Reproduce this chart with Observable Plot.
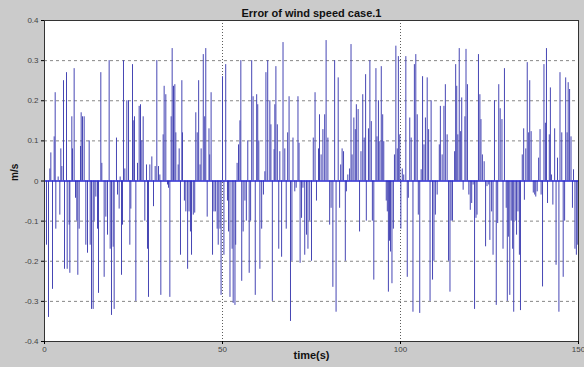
<!DOCTYPE html>
<html>
<head>
<meta charset="utf-8">
<script src="https://cdn.jsdelivr.net/npm/d3@7"></script>
<script src="https://cdn.jsdelivr.net/npm/@observablehq/plot@0.6"></script>
<style>
  html, body { margin: 0; padding: 0; background: #cbcbcb; }
  #chart svg { display: block; }
</style>
</head>
<body>
<div id="chart"></div>
<script>
const title = "Error of wind speed case.1";
const xLabel = "time(s)";
const yLabel = "m/s";
const xTicks = [0, 50, 100, 150];
const yTicks = [-0.4, -0.3, -0.2, -0.1, 0, 0.1, 0.2, 0.3, 0.4];

// sample times (s)
const time = [
  0.56,1.12,1.50,1.78,2.25,2.72,3.00,3.18,3.84,4.31,4.59,4.87,5.34,5.62,6.18,6.37,6.93,7.12,7.68,7.87,
  8.33,8.71,9.08,9.36,9.74,10.11,10.30,10.67,11.14,11.61,12.08,12.55,12.83,13.20,13.67,13.95,14.42,14.89,15.17,15.82,
  16.10,16.76,17.23,17.70,18.16,18.45,18.82,19.29,19.57,20.22,20.51,20.97,21.25,21.63,21.91,22.19,22.57,23.13,23.60,23.97,
  24.25,24.72,24.91,25.28,25.66,26.12,26.59,26.97,27.34,27.72,28.18,28.65,28.93,29.21,29.59,30.15,30.62,31.09,31.55,32.02,
  32.40,32.68,33.33,33.61,34.08,34.55,34.83,35.21,35.58,35.86,36.24,36.61,36.89,
  37.55,37.83,38.2,38.58,38.76,39.3,39.7,40.2,40.6,41.0,41.3,41.8,42.2,42.5,42.9,43.3,43.7,44.0,44.6,45.0,
  45.3,45.7,46.2,46.4,46.8,47.2,47.6,48.0,48.5,48.8,49.3,49.6,50.0,50.4,50.9,51.4,51.7,52.1,52.7,53.0,
  53.5,53.7,54.1,54.5,54.9,55.15,55.4,55.8,56.3,56.7,57.1,57.5,57.9,58.2,58.6,59.2,59.6,59.9,60.2,60.5,
  61.0,61.5,61.9,62.2,62.7,63.3,63.6,64.0,64.5,64.7,65.0,65.4,65.8,66.1,66.6,67.0,67.5,67.9,68.3,68.7,
  69.1,69.5,69.8,70.3,70.7,71.2,71.5,71.8,72.2,72.6,73.1,73.6,74.0,74.5,75.0,
  75.5,76.0,76.4,76.97,77.25,77.7,78.2,78.7,79.1,79.6,80.1,80.5,81.0,81.5,81.9,82.5,82.9,83.2,83.6,84.0,
  84.5,84.8,85.2,85.7,86.1,86.4,86.9,87.3,87.6,88.1,88.5,88.9,89.4,89.8,90.2,90.4,91.0,91.4,91.8,92.1,
  92.5,93.1,93.4,93.8,94.2,94.6,95.0,95.3,96.0,96.3,96.6,96.9,97.2,97.6,98.0,98.3,98.7,99.1,99.4,99.8,
  100.1,100.5,100.9,101.5,101.9,102.2,102.6,103.0,103.5,103.9,104.3,104.7,105.0,105.4,105.8,106.2,106.6,107.0,107.5,107.9,
  108.3,108.6,109.0,109.4,109.8,110.3,110.9,111.2,111.7,112.2,112.6,
  113.1,113.5,113.9,114.2,114.6,115.2,115.5,115.8,116.1,116.5,116.9,117.2,117.6,118.1,118.4,118.8,119.2,119.6,120.0,120.4,
  120.8,121.2,121.5,121.9,122.3,122.6,123.0,123.5,123.9,124.3,124.8,125.1,125.6,126.0,126.4,126.9,127.3,127.6,128.0,128.5,
  128.8,129.2,129.7,130.0,130.3,130.7,131.1,131.5,131.8,132.2,132.6,133.0,133.4,133.7,134.2,134.6,134.8,135.2,135.6,136.0,
  136.3,136.7,137.3,137.7,138.0,138.4,138.8,139.2,139.5,139.9,140.3,140.7,141.0,141.3,141.8,142.1,142.4,142.8,143.3,143.7,
  144.1,144.5,144.8,145.3,145.7,146.1,146.4,146.8,147.1,147.5,147.9,148.3,148.6,149.0,149.4,149.8
];

// wind speed error (m/s)
const error = [
  -0.16,-0.34,0.03,0.07,-0.27,0.11,0.22,-0.12,0.01,-0.085,0.08,0.036,0.25,-0.22,0.27,-0.22,-0.11,-0.23,0.16,0.08,
  0.28,-0.043,-0.10,-0.235,-0.12,0.086,0.17,0.16,0.16,-0.16,-0.18,0.10,-0.16,-0.32,-0.32,-0.10,-0.04,-0.12,-0.28,0.27,
  0.044,-0.24,-0.09,-0.135,0.30,-0.17,-0.335,-0.165,-0.32,0.107,-0.035,-0.07,0.01,-0.235,-0.11,0.30,0.03,0.20,0.20,-0.16,
  -0.07,0.29,0.15,0.16,-0.30,0.044,0.186,0.19,0.10,0.16,-0.10,0.04,-0.17,-0.29,0.04,0.06,-0.064,0.036,0.30,0.036,
  0.015,-0.285,0.115,0.236,0.215,-0.01,-0.018,-0.29,0.16,0.33,0.236,0.24,0.12,
  0.04,0.08,-0.185,0.25,0.12,-0.05,-0.077,-0.22,-0.077,-0.127,-0.185,-0.085,-0.08,0.17,0.12,0.25,0.04,0.08,0.315,0.16,
  0.33,-0.09,0.13,0.065,0.22,-0.185,-0.077,-0.077,-0.12,-0.16,-0.12,-0.285,0.26,-0.185,0.29,-0.05,-0.127,-0.29,-0.17,-0.305,
  -0.31,-0.16,0.044,0.09,0.15,0.30,-0.25,-0.127,-0.05,-0.10,0.10,-0.23,-0.10,0.30,0.21,-0.285,0.215,0.19,0.10,-0.22,
  -0.12,-0.035,0.023,0.27,0.30,0.20,0.14,-0.30,0.078,0.19,0.285,0.14,-0.17,0.073,-0.19,0.345,0.08,-0.12,0.12,0.21,
  -0.35,-0.20,0.107,-0.027,-0.018,0.21,0.094,-0.205,-0.093,-0.018,-0.185,-0.135,-0.17,-0.10,-0.20,
  0.107,0.22,-0.05,0.08,0.165,0.065,0.128,0.165,0.35,0.107,-0.11,-0.068,-0.265,0.30,-0.327,0.257,-0.068,0.04,0.08,0.073,
  -0.20,-0.027,0.015,0.03,0.34,0.065,0.157,0.128,0.19,0.178,-0.127,0.073,0.215,0.107,0.265,-0.10,0.13,0.30,0.148,-0.10,
  -0.247,0.28,0.11,0.20,0.098,0.285,0.165,0.098,-0.05,-0.077,-0.277,-0.15,-0.177,-0.256,-0.12,0.065,0.336,0.08,0.31,0.115,
  -0.12,0.03,0.015,0.31,-0.24,-0.043,0.157,0.107,-0.327,0.29,0.315,0.165,-0.085,-0.33,0.028,0.26,0.09,0.157,0.257,0.128,
  -0.30,0.20,-0.247,-0.20,-0.085,-0.035,0.09,0.186,0.065,0.186,0.24,
  0.115,-0.20,-0.277,-0.10,-0.10,0.073,0.29,0.236,0.115,0.33,0.123,0.207,-0.023,0.16,0.328,0.24,-0.035,-0.073,-0.056,-0.01,
  -0.32,-0.093,-0.085,0.315,0.215,0.153,0.065,0.048,-0.164,-0.014,-0.01,-0.148,-0.077,-0.185,0.20,-0.31,-0.106,0.24,0.18,0.153,
  -0.17,0.28,-0.068,-0.30,-0.14,-0.285,-0.10,-0.17,-0.327,-0.10,-0.135,-0.077,-0.185,-0.323,0.065,0.13,-0.048,0.08,0.295,0.12,
  0.25,0.123,-0.03,-0.035,-0.04,-0.027,0.057,0.128,-0.035,-0.264,0.29,0.144,0.33,-0.056,0.115,0.232,0.015,-0.06,0.13,-0.21,
  0.057,-0.327,0.27,0.12,-0.24,-0.10,0.257,0.12,0.245,0.228,0.11,-0.068,0.028,-0.17,-0.185,-0.16
];

const data = time.map((t, i) => ({t, v: error[i]}));
const fmt = d => d === 0 ? "0" : d.toFixed(1);

const chart = Plot.plot({
  width: 584,
  height: 367,
  marginLeft: 44,
  marginRight: 6,
  marginTop: 20,
  marginBottom: 26,
  style: {background: "#cbcbcb", fontFamily: "Liberation Sans, Arial, sans-serif"},
  x: {domain: [0, 150], ticks: xTicks},
  y: {domain: [-0.4, 0.4], ticks: yTicks},
  marks: [
    Plot.frame({fill: "white"}),
    Plot.gridY(yTicks.filter(d => d !== 0 && Math.abs(d) < 0.4), {stroke: "#000", strokeOpacity: 0.8, strokeDasharray: "3,3", strokeWidth: 0.6}),
    Plot.gridX([50, 100], {stroke: "#000", strokeOpacity: 0.8, strokeDasharray: "1,2", strokeWidth: 0.8}),
    Plot.ruleX(data, {x: "t", y1: 0, y2: "v", stroke: "#4646b4", strokeWidth: 1}),
    Plot.ruleY([0], {stroke: "#2a2ad0", strokeWidth: 1.6}),
    Plot.frame({stroke: "#333", strokeWidth: 1}),
    Plot.axisY(yTicks, {tickSize: 3, tickPadding: 3, tickFormat: fmt, fontSize: 8, fill: "#444", label: null}),
    Plot.axisX(xTicks, {tickSize: 3, tickPadding: 2, fontSize: 8, fill: "#444", label: null}),
    Plot.text([title], {frameAnchor: "top", dy: -11, fontSize: 11, fontWeight: "bold", fill: "#111"}),
    Plot.text([xLabel], {frameAnchor: "bottom", dy: 17, fontSize: 11, fontWeight: "bold", fill: "#111"}),
    Plot.text([yLabel], {frameAnchor: "left", dx: -30, rotate: -90, fontSize: 10, fontWeight: "bold", fill: "#111"})
  ]
});
document.getElementById("chart").appendChild(chart);
</script>
</body>
</html>
